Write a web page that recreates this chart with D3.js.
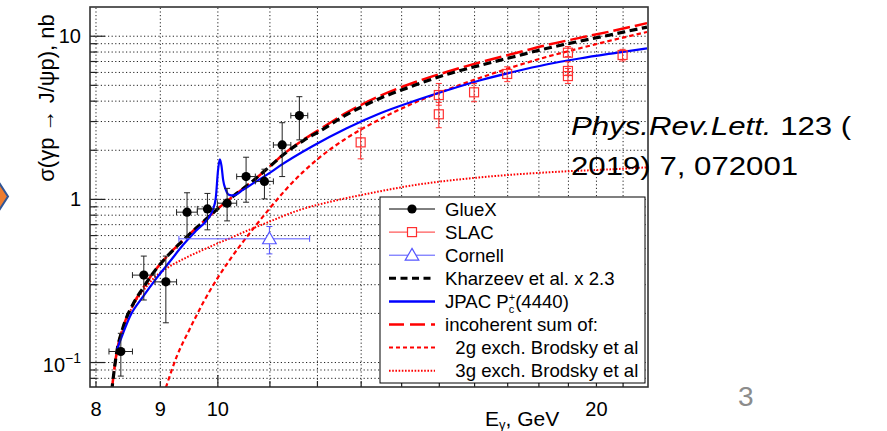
<!DOCTYPE html>
<html>
<head>
<meta charset="utf-8">
<script src="https://cdn.jsdelivr.net/npm/d3@7"></script>
<style>
body { margin: 0; background: #fff; }
svg text { font-family: "Liberation Sans", Arial, Helvetica, sans-serif; }
</style>
</head>
<body>
<div id="chart"></div>
<script>
// ---------- data ----------
var gluexE  = [8.38, 8.74, 9.10, 9.46, 9.82, 10.18, 10.54, 10.90, 11.26, 11.62];
var gluexV  = [0.116, 0.341, 0.31, 0.829, 0.868, 0.941, 1.37, 1.28, 2.14, 3.24];
var gluexLo = [0.082, 0.24, 0.174, 0.58, 0.646, 0.733, 0.954, 1.0, 1.37, 2.3];
var gluexHi = [0.15, 0.446, 0.446, 1.09, 1.08, 1.16, 1.8, 1.52, 2.93, 4.23];
var gluexDE = 0.18;

var slacE  = [13.0, 15.0, 15.0, 16.0, 17.0, 19.0, 19.0, 19.0, 21.0];
var slacV  = [2.22, 4.33, 3.30, 4.50, 5.83, 7.87, 6.08, 5.66, 7.62];
var slacLo = [1.76, 3.75, 2.73, 3.94, 5.23, 7.45, 5.74, 5.10, 7.00];
var slacHi = [2.71, 5.10, 3.90, 5.10, 6.45, 8.58, 6.92, 6.30, 8.25];

var cornellE = [11.0], cornellV = [0.569], cornellLo = [0.46], cornellHi = [0.677];
var cornellEmin = [9.32], cornellEmax = [11.84];

// incoherent sum (red long dash)
var sumE = [8.24, 8.316, 8.417, 8.573, 8.730, 8.892, 9.112, 9.337, 9.509, 9.742, 9.984, 10.23, 10.675, 11.006, 11.347, 11.70, 12.06, 12.66, 13.46, 14.30, 15.21, 16.16, 17.18, 18.26, 19.41, 20.63, 21.96];
var sumV = [0.066, 0.114, 0.1645, 0.2275, 0.285, 0.352, 0.441, 0.534, 0.6105, 0.723, 0.856, 1.0, 1.289, 1.581, 1.941, 2.298, 2.665, 3.363, 4.273, 5.132, 5.99, 6.855, 7.75, 8.75, 9.7, 10.7, 11.95];
// Kharzeev x 2.3 (black dash)
var kharE = [8.24, 8.316, 8.417, 8.573, 8.730, 8.892, 9.112, 9.337, 9.509, 9.742, 9.984, 10.23, 10.675, 11.006, 11.347, 11.70, 12.06, 12.66, 13.46, 14.30, 15.21, 16.16, 17.18, 18.26, 19.41, 20.63, 21.96];
var kharV = [0.066, 0.114, 0.1645, 0.2275, 0.285, 0.352, 0.441, 0.534, 0.6105, 0.723, 0.856, 1.0, 1.289, 1.58, 1.93, 2.27, 2.60, 3.27, 4.125, 4.92, 5.79, 6.57, 7.41, 8.35, 9.25, 10.2, 11.3];
// JPAC Pc(4440) (blue solid)
var jpacE = [8.325, 8.417, 8.521, 8.730, 8.947, 9.167, 9.393, 9.626, 9.827, 9.917, 9.971, 10.013, 10.045, 10.076, 10.106, 10.156, 10.217, 10.292, 10.48, 10.675, 11.006, 11.21, 11.91, 12.66, 13.46, 14.30, 15.21, 16.16, 17.18, 18.26, 19.41, 20.63, 21.96];
var jpacV = [0.1206, 0.1512, 0.1902, 0.2522, 0.3269, 0.4131, 0.5228, 0.6415, 0.7545, 0.856, 1.014, 1.505, 1.746, 1.593, 1.307, 1.135, 1.058, 1.05, 1.135, 1.244, 1.443, 1.593, 2.111, 2.703, 3.339, 3.954, 4.617, 5.318, 5.99, 6.662, 7.251, 7.802, 8.373];
// 2g exchange (red short dash)
var twoGE = [9.100, 9.282, 9.509, 9.742, 9.984, 10.23, 10.48, 10.74, 11.006, 11.347, 11.70, 12.06, 12.66, 13.46, 14.30, 15.21, 16.16, 17.18, 18.26, 19.41, 20.63, 21.96];
var twoGV = [0.0696, 0.1078, 0.16, 0.2307, 0.3192, 0.4231, 0.5454, 0.6931, 0.8747, 1.151, 1.463, 1.795, 2.347, 3.068, 3.845, 4.651, 5.508, 6.433, 7.406, 8.373, 9.412, 10.54];
// 3g exchange (red dotted)
var threeGE = [8.24, 8.316, 8.417, 8.573, 8.730, 8.892, 9.112, 9.337, 9.509, 9.742, 9.984, 10.23, 10.42, 10.94, 11.63, 12.43, 13.21, 14.30, 16.16, 18.26, 20.63, 21.96];
var threeGV = [0.066, 0.1124, 0.16, 0.2228, 0.2733, 0.3236, 0.3753, 0.4172, 0.4477, 0.4872, 0.5301, 0.5728, 0.6105, 0.7129, 0.856, 0.979, 1.081, 1.21, 1.354, 1.453, 1.52, 1.56];

var xGridTicks  = [8, 9, 10, 11, 12, 13, 14, 15, 16, 17, 18, 19, 20, 21];
var xMajorTicks = [10, 20];
var xMinorTicks = [8, 9, 11, 12, 13, 14, 15, 16, 17, 18, 19, 21];
var xLabelTicks = [8, 9, 10, 20];
var yGridTicks  = [0.08, 0.09, 0.1, 0.2, 0.3, 0.4, 0.5, 0.6, 0.7, 0.8, 0.9, 1, 2, 3, 4, 5, 6, 7, 8, 9, 10];
var yMajorTicks = [0.1, 1, 10];
var yMinorTicks = [0.08, 0.09, 0.2, 0.3, 0.4, 0.5, 0.6, 0.7, 0.8, 0.9, 2, 3, 4, 5, 6, 7, 8, 9];
var yLabelTicks = [0.1, 1, 10];

var legendLabels = ["GlueX", "SLAC", "Cornell", "Kharzeev et al. x 2.3", "JPAC P", "incoherent sum of:", "  2g exch. Brodsky et al", "  3g exch. Brodsky et al"];

// ---------- layout ----------
var width = 887, height = 431,
    pLeft = 90, pRight = 648, pTop = 7, pBottom = 387;

var red = "#ff0000", blue = "#0000ff", slacRed = "#ff3030", cornellBlue = "#5555ff";

var x = d3.scaleLog().domain([7.92, 22]).range([pLeft, pRight]);
var y = d3.scaleLog().domain([0.0703, 15]).range([pBottom, pTop]);

var svg = d3.select("#chart")
    .append("svg")
    .attr("width", width)
    .attr("height", height);

svg.append("rect")
    .attr("width", width)
    .attr("height", height)
    .attr("fill", "#fff");

// slide arrow poking in from the left
svg.append("path")
    .attr("d", "M-4,178L8,196.5L-4,215Z")
    .attr("fill", "#ed7d31")
    .attr("stroke", "#2f5597")
    .attr("stroke-width", 2);

svg.append("defs").append("clipPath")
    .attr("id", "clip")
    .append("rect")
    .attr("x", pLeft).attr("y", pTop)
    .attr("width", pRight - pLeft).attr("height", pBottom - pTop);

// grid
var gx = svg.append("g")
    .attr("transform", "translate(0," + pBottom + ")")
    .call(d3.axisBottom(x).tickValues(xGridTicks).tickSize(-(pBottom - pTop)).tickFormat(""));
gx.select(".domain").remove();
gx.selectAll("line").attr("stroke", "#222").attr("stroke-dasharray", "1.2,2.4");

var gy = svg.append("g")
    .attr("transform", "translate(" + pLeft + ",0)")
    .call(d3.axisLeft(y).tickValues(yGridTicks).tickSize(-(pRight - pLeft)).tickFormat(""));
gy.select(".domain").remove();
gy.selectAll("line").attr("stroke", "#222").attr("stroke-dasharray", "1.2,2.4");

// curves
var plot = svg.append("g").attr("clip-path", "url(#clip)");

var line = d3.line()
    .x(function (d) { return x(d[0]); })
    .y(function (d) { return y(d[1]); })
    .curve(d3.curveMonotoneX);

function drawCurve(E, V, color, w, dash) {
    plot.append("path")
        .datum(d3.zip(E, V))
        .attr("d", line)
        .attr("fill", "none")
        .attr("stroke", color)
        .attr("stroke-width", w)
        .attr("stroke-dasharray", dash);
}

drawCurve(threeGE, threeGV, red, 2, "1.6,1.6");
drawCurve(twoGE, twoGV, red, 2.2, "4.5,3");
drawCurve(sumE, sumV, red, 2.5, "17,5");
drawCurve(kharE, kharV, "#000", 3.2, "8,4.5");
drawCurve(jpacE, jpacV, blue, 2.2, null);

// error bars + markers
function errBars(g, xs, v, lo, hi, xlo, xhi, color) {
    for (var i = 0; i < xs.length; i++) {
        var cx = x(xs[i]), cy = y(v[i]);
        g.append("line").attr("x1", cx).attr("x2", cx).attr("y1", y(lo[i])).attr("y2", y(hi[i]));
        g.append("line").attr("x1", cx - 3).attr("x2", cx + 3).attr("y1", y(lo[i])).attr("y2", y(lo[i]));
        g.append("line").attr("x1", cx - 3).attr("x2", cx + 3).attr("y1", y(hi[i])).attr("y2", y(hi[i]));
        if (xlo) {
            var a = x(xlo[i]), b = x(xhi[i]);
            g.append("line").attr("x1", a).attr("x2", b).attr("y1", cy).attr("y2", cy);
            g.append("line").attr("x1", a).attr("x2", a).attr("y1", cy - 3).attr("y2", cy + 3);
            g.append("line").attr("x1", b).attr("x2", b).attr("y1", cy - 3).attr("y2", cy + 3);
        }
    }
    g.attr("stroke", color).attr("stroke-width", 1);
}

var cornellG = plot.append("g");
errBars(cornellG, cornellE, cornellV, cornellLo, cornellHi, cornellEmin, cornellEmax, cornellBlue);
cornellG.selectAll("path.tri")
    .data(cornellE)
    .enter()
    .append("path")
    .attr("d", d3.symbol().type(d3.symbolTriangle).size(80))
    .attr("transform", function (d, i) { return "translate(" + x(d) + "," + (y(cornellV[i]) + 1) + ")"; })
    .attr("fill", "#fff")
    .attr("stroke", cornellBlue)
    .attr("stroke-width", 1.2);

var slacG = plot.append("g");
errBars(slacG, slacE, slacV, slacLo, slacHi, null, null, slacRed);
slacG.selectAll("rect.sq")
    .data(slacE)
    .enter()
    .append("rect")
    .attr("x", function (d) { return x(d) - 4.5; })
    .attr("y", function (d, i) { return y(slacV[i]) - 4.5; })
    .attr("width", 9)
    .attr("height", 9)
    .attr("fill", "none")
    .attr("stroke", slacRed)
    .attr("stroke-width", 1.2);

var gluexG = plot.append("g");
errBars(gluexG, gluexE, gluexV, gluexLo, gluexHi,
    gluexE.map(function (d) { return d - gluexDE; }),
    gluexE.map(function (d) { return d + gluexDE; }), "#222");
gluexG.selectAll("circle")
    .data(gluexE)
    .enter()
    .append("circle")
    .attr("cx", function (d) { return x(d); })
    .attr("cy", function (d, i) { return y(gluexV[i]); })
    .attr("r", 4.6)
    .attr("fill", "#000")
    .attr("stroke", "none");

// axes ticks (inside)
function tickAxis(axis, tr) {
    var g = svg.append("g").attr("transform", tr).call(axis);
    g.select(".domain").remove();
    g.selectAll("line").attr("stroke", "#222").attr("stroke-width", 1.2);
    return g;
}
tickAxis(d3.axisBottom(x).tickValues(xMajorTicks).tickSize(-12).tickFormat(""), "translate(0," + pBottom + ")");
tickAxis(d3.axisBottom(x).tickValues(xMinorTicks).tickSize(-6).tickFormat(""), "translate(0," + pBottom + ")");
tickAxis(d3.axisLeft(y).tickValues(yMajorTicks).tickSize(-15).tickFormat(""), "translate(" + pLeft + ",0)");
tickAxis(d3.axisLeft(y).tickValues(yMinorTicks).tickSize(-7).tickFormat(""), "translate(" + pLeft + ",0)");

var xl = svg.append("g")
    .attr("transform", "translate(0," + pBottom + ")")
    .call(d3.axisBottom(x).tickValues(xLabelTicks).tickSize(0).tickPadding(15).tickFormat(d3.format("d")));
xl.select(".domain").remove();
xl.selectAll("text").attr("font-size", 20).attr("font-family", "Liberation Sans, Arial, sans-serif").attr("fill", "#000");

var yl = svg.append("g")
    .attr("transform", "translate(" + pLeft + ",0)")
    .call(d3.axisLeft(y).tickValues(yLabelTicks).tickSize(0).tickPadding(9)
        .tickFormat(function (d) { return d >= 1 ? d3.format("d")(d) : "10"; }));
yl.select(".domain").remove();
yl.selectAll("text").attr("font-size", 20).attr("font-family", "Liberation Sans, Arial, sans-serif").attr("fill", "#000")
    .each(function (d) {
        if (d < 1) {
            d3.select(this).attr("dy", "0.45em")
                .append("tspan").attr("dy", -9).attr("font-size", 14).text("\u22121");
        }
    });

// axis titles
svg.append("text")
    .attr("transform", "translate(54,98) rotate(-90)")
    .attr("text-anchor", "middle")
    .attr("font-size", 22)
    .text("\u03c3(\u03b3p \u2192 J/\u03c8p), nb");

var xt = svg.append("text").attr("x", 485).attr("y", 426).attr("font-size", 21);
xt.append("tspan").text("E");
xt.append("tspan").attr("dy", 3).attr("font-size", 13).text("\u03b3");
xt.append("tspan").attr("dy", -3).text(", GeV");

// legend
var legX = 380, legY = 197, legW = 265, legH = 186, rowH = 23.1;
var leg = svg.append("g");
leg.append("rect")
    .attr("x", legX).attr("y", legY).attr("width", legW).attr("height", legH)
    .attr("fill", "#fff").attr("stroke", "#000").attr("stroke-width", 1);

var legStyles = [
    { c: "#000", w: 1, dash: null, mark: "circle" },
    { c: slacRed, w: 1, dash: null, mark: "square" },
    { c: cornellBlue, w: 1, dash: null, mark: "triangle" },
    { c: "#000", w: 3, dash: "7,4.5", mark: null },
    { c: blue, w: 2.5, dash: null, mark: null },
    { c: red, w: 2.5, dash: "15,6", mark: null },
    { c: red, w: 2, dash: "4,3", mark: null },
    { c: red, w: 2, dash: "1.6,1.6", mark: null }
];

legendLabels.forEach(function (lab, i) {
    var cy = legY + 12 + i * rowH, s = legStyles[i];
    leg.append("line")
        .attr("x1", 389).attr("x2", 435).attr("y1", cy).attr("y2", cy)
        .attr("stroke", s.c).attr("stroke-width", s.w).attr("stroke-dasharray", s.dash);
    if (s.mark === "circle") {
        leg.append("circle").attr("cx", 412).attr("cy", cy).attr("r", 4.6).attr("fill", "#000");
    } else if (s.mark === "square") {
        leg.append("rect").attr("x", 407.5).attr("y", cy - 4.5).attr("width", 9).attr("height", 9)
            .attr("fill", "#fff").attr("stroke", s.c).attr("stroke-width", 1.2);
    } else if (s.mark === "triangle") {
        leg.append("path").attr("d", d3.symbol().type(d3.symbolTriangle).size(80))
            .attr("transform", "translate(412," + (cy + 1) + ")")
            .attr("fill", "#fff").attr("stroke", s.c).attr("stroke-width", 1.2);
    }
    var t = leg.append("text")
        .attr("x", 445).attr("y", cy + 6.5)
        .attr("font-size", 18.6)
        .style("white-space", "pre")
        .text(lab);
    if (i === 4) {
        t.append("tspan").attr("dy", 5).attr("font-size", 11).text("c");
        t.append("tspan").attr("dx", -5.5).attr("dy", -12).attr("font-size", 11).text("+");
        t.append("tspan").attr("dy", 7).text("(4440)");
    }
});

// frame
svg.append("rect")
    .attr("x", pLeft).attr("y", pTop)
    .attr("width", pRight - pLeft).attr("height", pBottom - pTop)
    .attr("fill", "none").attr("stroke", "#333").attr("stroke-width", 1.6);

// slide text
var ref = svg.append("g").attr("transform", "translate(571,135) scale(1.2,1)");
var r1 = ref.append("text").attr("font-size", 26);
r1.append("tspan").attr("font-style", "italic").text("Phys.Rev.Lett.");
r1.append("tspan").text(" 123 (");
ref.append("text").attr("y", 40).attr("font-size", 26).text("2019) 7, 072001");

svg.append("text")
    .attr("x", 738).attr("y", 406)
    .attr("font-size", 28)
    .attr("fill", "#8c8c8c")
    .text("3");
</script>
</body>
</html>
